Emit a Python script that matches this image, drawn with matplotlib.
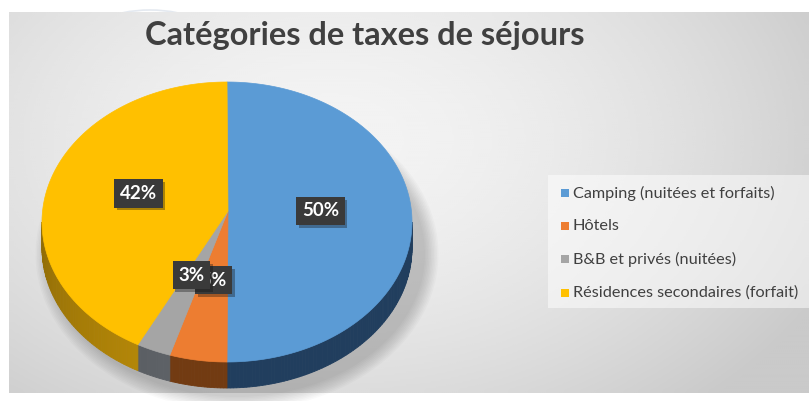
import numpy as np
import matplotlib.pyplot as plt
import matplotlib.patheffects as pe
from matplotlib.colors import to_rgb
from matplotlib.patches import Polygon, Rectangle, Ellipse, Circle

# data
categories = ['Camping (nuitées et forfaits)', 'Hôtels',
              'B&B et privés (nuitées)', 'Résidences secondaires (forfait)']
values = [50, 5, 3, 42]
top_colors = ['#5B9BD5', '#ED7D31', '#A5A5A5', '#FFC000']
side_colors = ['#213E5E', '#723B12', '#5D6166', '#B88A08']
title = 'Catégories de taxes de séjours'

plt.rcParams['font.family'] = ['Lato', 'DejaVu Sans']

W, H = 809, 401
fig = plt.figure(figsize=(W / 100, H / 100), dpi=100)
ax = fig.add_axes([0, 0, 1, 1])

# faint decoration circles behind the chart area
for r in (95, 140):
    ax.add_patch(Circle((150, 150), r, fill=False, ec='#e4e9f0', lw=1.2, zorder=0))

# chart area with radial grey gradient
x0, x1, y0, y1 = 9, 809, 12, 393
gx, gy = np.meshgrid(np.linspace(x0, x1, 400), np.linspace(y0, y1, 200))
d = np.sqrt(((gx - 330) / 520) ** 2 + ((gy - 140) / 340) ** 2)
shade = np.clip(0.955 - 0.15 * d ** 1.7, 0.79, 0.96)
ax.imshow(shade, cmap='gray', vmin=0, vmax=1, extent=(x0, x1, y1, y0),
          zorder=0.5, aspect='auto', interpolation='bicubic')

# pie geometry (pixels)
cx, cy, a, b = 227, 222, 185, 140
apex = (228, 211)
depth = 26


def rim(t):
    t = np.radians(t)
    return cx + a * np.sin(t), cy - b * np.cos(t)


# soft shadow
for k in range(10):
    ax.add_patch(Ellipse((cx + 10, cy + depth + 6), 2 * a + 6 + 3 * k, 2 * b + 6 + 3 * k,
                         color='black', alpha=0.018, lw=0, zorder=1))

fracs = np.array(values) / sum(values)
bounds = np.concatenate([[0], np.cumsum(fracs) * 360])

for i in range(len(values)):
    t1, t2 = bounds[i], bounds[i + 1]
    # side wall, only the front half is visible
    s1, s2 = max(t1, 90), min(t2, 270)
    if s2 > s1:
        base = np.array(to_rgb(side_colors[i]))
        ts = np.linspace(s1, s2, max(int(s2 - s1), 2) + 1)
        for ta, tb in zip(ts[:-1], ts[1:]):
            f = 1 - 0.22 * max(0, (ta - 200) / 70)
            xa, ya = rim(ta)
            xb, yb = rim(tb)
            ax.add_patch(Polygon([(xa, ya), (xb, yb), (xb, yb + depth), (xa, ya + depth)],
                                 closed=True, fc=base * f, ec=base * f, lw=0.6, zorder=2))
    # top face
    ts = np.linspace(t1, t2, max(int(t2 - t1), 2) + 1)
    pts = [apex] + [rim(t) for t in ts]
    ax.add_patch(Polygon(pts, closed=True, fc=top_colors[i], ec=top_colors[i],
                         lw=0.5, zorder=3))

# data labels (the 3% box sits over the 5% one, as in the original)
for i in range(len(values)):
    tm = np.radians((bounds[i] + bounds[i + 1]) / 2)
    lx = apex[0] + 0.5 * a * np.sin(tm)
    ly = apex[1] - 0.5 * b * np.cos(tm)
    lab = ax.text(lx, ly, f'{values[i]}%', fontsize=13.5, fontweight='bold', color='white',
                  ha='center', va='center', zorder=4 + i,
                  bbox=dict(boxstyle='square,pad=0.3', fc='#3a3a3a', ec='none'))
    lab.get_bbox_patch().set_path_effects(
        [pe.SimplePatchShadow(offset=(2, -2), alpha=0.35), pe.Normal()])

# title
t = ax.text(365, 45, title, fontsize=22, fontweight='bold', color='#404040',
            ha='center', va='baseline', zorder=5)

# legend
ax.add_patch(Rectangle((548, 175), 261, 133, fc='white', alpha=0.5, lw=0, zorder=4))
rows = [193, 226, 259, 293]
leg = []
for i, name in enumerate(categories):
    ax.add_patch(Rectangle((561, rows[i] - 4), 8, 8, fc=top_colors[i], lw=0, zorder=5))
    leg.append(ax.text(573, rows[i], name, fontsize=10.5, color='#404040',
                       ha='left', va='center', zorder=5))

ax.set_xlim(0, W)
ax.set_ylim(H, 0)
ax.axis('off')

# fit text widths to the reference
fig.canvas.draw()
r = fig.canvas.get_renderer()
w = t.get_window_extent(r).width
t.set_fontsize(t.get_fontsize() * 440 / w)
w = leg[0].get_window_extent(r).width
for l in leg:
    l.set_fontsize(l.get_fontsize() * 203 / w)

fig.savefig('out.png', dpi=100)
